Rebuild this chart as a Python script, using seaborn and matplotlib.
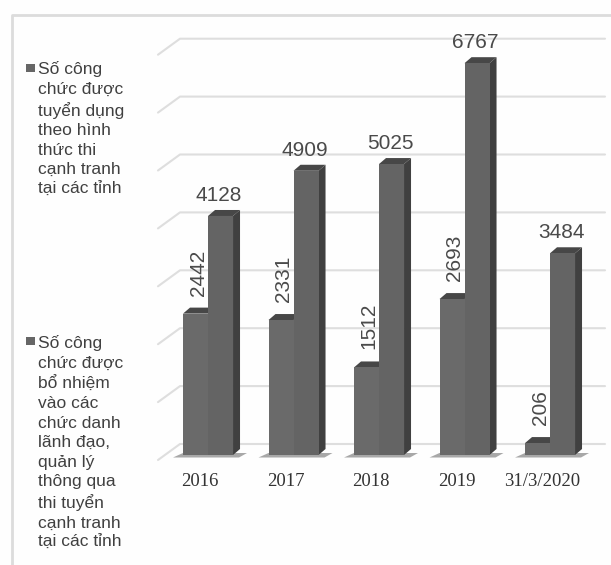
import numpy as np
import pandas as pd
import matplotlib
matplotlib.use("Agg")
import matplotlib.pyplot as plt
import seaborn as sns
from matplotlib.lines import Line2D
from matplotlib.patches import Polygon, Rectangle
from matplotlib.transforms import Affine2D, IdentityTransform

years = ["2016", "2017", "2018", "2019", "31/3/2020"]
appointed = [2442, 2331, 1512, 2693, 206]
recruited = [4128, 4909, 5025, 6767, 3484]
grid_values = [0, 1000, 2000, 3000, 4000, 5000, 6000, 7000]
legend_recruited = "Số công\nchức được\ntuyển dụng\ntheo hình\nthức thi\ncạnh tranh\ntại các tỉnh"
legend_appointed = "Số công\nchức được\nbổ nhiệm\nvào các\nchức danh\nlãnh đạo,\nquản lý\nthông qua\nthi tuyển\ncạnh tranh\ntại các tỉnh"

df = pd.DataFrame({
    "year": years * 2,
    "value": appointed + recruited,
    "kind": ["appointed"] * 5 + ["recruited"] * 5,
})

W, H = 611, 565
sns.set_style("white")
plt.rcParams["font.family"] = ["Liberation Sans", "DejaVu Sans"]

fig = plt.figure(figsize=(W / 100, H / 100), dpi=100, facecolor="#fefefe")
ax = fig.add_axes([158 / W, (H - 455) / H, 447 / W, 405.3 / H])
ax.patch.set_alpha(0)

sns.barplot(data=df, x="year", y="value", hue="kind", palette=["#6a6a6a", "#646464"],
            width=0.585, gap=0, saturation=1, legend=False, ax=ax, zorder=3,
            edgecolor="none", linewidth=0)
ax.set_xlim(-0.585, 4.643)
ax.set_ylim(0, 7000)
ax.set(xlabel="", ylabel="", yticks=[])
sns.despine(ax=ax, left=True, bottom=True)

px = IdentityTransform()


def to_px(yfig):
    return H - yfig


# back wall grid, with the slanted piece on the left
for v in grid_values:
    y = ax.transData.transform((0, v))[1]
    ax.add_line(Line2D([158, 180, 605], [y - 5, y + 11, y + 11], transform=px,
                       color="#dedede", lw=1.5, zorder=1, clip_on=False))

# depth of the bars
for patch in ax.patches:
    (x0, y0), (x1, y1) = patch.get_window_extent().get_points()
    ax.add_patch(Polygon([(x1, y0), (x1 + 7, y0 + 6), (x1 + 7, y1 + 6), (x1, y1)], transform=px,
                         facecolor="#404040", edgecolor="none", zorder=2.5, clip_on=False))
    ax.add_patch(Polygon([(x0, y1), (x0 + 7, y1 + 6), (x1 + 7, y1 + 6), (x1, y1)], transform=px,
                         facecolor="#474747", edgecolor="none", zorder=2.5, clip_on=False))

# shadow on the floor
for c in ax.containers[0]:
    (x0, y0), _ = c.get_window_extent().get_points()
    ax.add_patch(Polygon([(x0 - 10, y0 - 2.5), (x0, y0 + 2), (x0 + 64, y0 + 2), (x0 + 56, y0 - 2.5)],
                         transform=px, facecolor="#a8a8a8", edgecolor="none", zorder=2, clip_on=False))

for ann in ax.bar_label(ax.containers[0], rotation=90, padding=13, fontsize=15, color="#4a4a4a"):
    ann.xyann = (2, 13)
for ann in ax.bar_label(ax.containers[1], padding=8, fontsize=15, color="#4a4a4a"):
    ann.xyann = (-1, 8)

ax.tick_params(axis="x", length=0, pad=13)
for lab in ax.get_xticklabels():
    lab.set_family("Liberation Serif")
    lab.set_fontsize(13.5)
    lab.set_color("#333333")
    lab.set_transform(lab.get_transform() + Affine2D().translate(-8, 0))

# legend blocks, placed by hand
for top, sq, txt in [(61, 72, legend_recruited), (335, 345, legend_appointed)]:
    fig.text(38 / W, 1 - top / H, txt, fontsize=12.5, color="#404040", va="top", ha="left", linespacing=1.375)
    fig.add_artist(Rectangle((26, to_px(sq)), 9, 8, transform=px, facecolor="#666666", edgecolor="none"))

# picture frame
fig.add_artist(Line2D([12, 12, W], [0, to_px(14.5), to_px(14.5)], transform=px, color="#dcdcdc", lw=2))

fig.savefig("out.png", dpi=100, facecolor=fig.get_facecolor())
